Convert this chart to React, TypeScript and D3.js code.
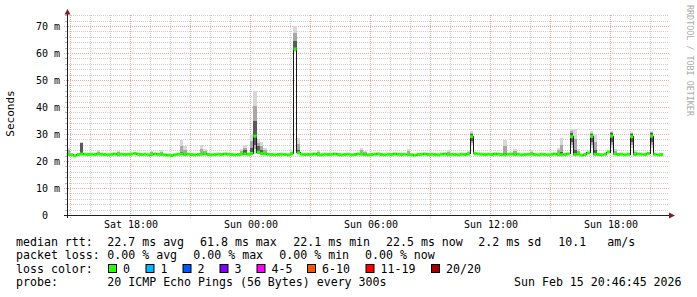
import React from 'react';
import * as d3 from 'd3';

// ---------- data ----------
const viewStart = new Date(2026, 1, 14, 14, 51);
const viewEnd = new Date(2026, 1, 15, 20, 51);
const dataStart = new Date(2026, 1, 14, 14, 50);
const stepMinutes = 10;

// median RTT (ms), one value every 10 minutes
const medianMs = [
  22.4, 22.3, 21.9, 22.4, 22.6, 22.5, 22.4, 22.5, 22.4, 22.6, 22.5, 22.4, 22.3, 22.5, 22.6, 22.4, 22.5, 22.4,
  22.5, 22.6, 22.8, 22.5, 22.4, 22.5, 22.3, 22.4, 22.6, 22.5, 22.4, 22.3, 22.2, 22.0, 22.3, 22.5, 22.6, 22.4,
  22.5, 22.4, 22.3, 22.4, 22.5, 22.6, 22.4, 22.3, 22.4, 22.5, 22.4, 22.6, 22.5, 22.4, 22.3, 22.4, 22.5, 22.6,
  22.5, 22.8, 29.2, 23.3, 22.7, 22.6, 22.5, 22.4, 22.3, 22.4, 22.5, 22.4, 22.3, 22.6, 61.5, 23.0, 22.5, 22.4,
  22.4, 22.5, 22.6, 22.4, 22.3, 22.5, 22.4, 22.5, 22.6, 22.4, 22.3, 22.4, 22.5, 22.3, 22.4, 22.6, 22.5, 22.4,
  22.3, 22.4, 22.5, 22.6, 22.4, 22.3, 22.5, 22.4, 22.6, 22.5, 22.4, 22.5, 22.4, 22.3, 22.2, 22.4, 22.5, 22.6,
  22.4, 22.5, 22.4, 22.3, 22.5, 22.6, 22.4, 22.5, 22.4, 22.3, 22.5, 22.4, 22.6, 29.0, 22.8, 22.6, 22.5, 22.4,
  22.5, 22.4, 22.6, 22.5, 22.4, 22.3, 22.5, 22.6, 22.4, 22.5, 22.3, 22.4, 22.5, 22.6, 22.4, 22.3, 22.5, 22.4,
  22.3, 22.5, 22.6, 22.4, 22.3, 22.4, 22.6, 29.0, 22.4, 22.5, 22.2, 22.4, 23.0, 29.1, 22.5, 22.4, 22.3, 22.5,
  23.3, 29.2, 22.6, 22.4, 22.5, 22.3, 22.5, 29.0, 22.4, 22.6, 22.5, 22.4, 22.8, 29.2, 22.5, 22.3, 22.4,
];

// smoke (ping spread) where it rises visibly above the median line
const smokeAt =       [0, 4, 9, 15, 25, 28, 34, 35, 40, 41, 52, 53, 55, 56, 57, 58, 59, 67, 68, 69, 75, 88, 89, 102, 114, 120, 121, 131, 134, 139, 147, 148, 151, 152, 153, 157, 158, 163, 164, 169, 170, 175];
const smokeMin =      [22.2, 22.4, 22.3, 22.3, 22.3, 22.3, 22.2, 22.2, 22.2, 22.2, 22.3, 22.3, 22.4, 22.6, 22.5, 22.4, 22.3, 22.3, 60.5, 22.5, 22.3, 22.3, 22.3, 22.3, 22.3, 22.3, 26.0, 22.3, 22.3, 22.3, 22.3, 22.3, 25.0, 22.4, 22.3, 25.0, 22.4, 25.0, 22.3, 25.0, 22.3, 25.0];
const smokeMax =      [25.0, 27.0, 24.2, 23.6, 23.8, 24.0, 27.8, 25.5, 26.0, 24.5, 24.5, 26.0, 30.0, 46.0, 28.0, 27.0, 25.0, 24.0, 70.0, 28.5, 24.0, 24.8, 23.8, 24.5, 24.0, 23.8, 31.0, 27.8, 24.5, 24.0, 25.0, 28.5, 32.0, 32.0, 24.5, 31.0, 30.0, 31.0, 24.5, 30.8, 24.0, 31.0];
const smokeCoreLow =  [22.3, 22.6, 22.4, 22.4, 22.4, 22.4, 22.4, 22.4, 22.4, 22.4, 22.4, 22.5, 22.8, 26.0, 23.0, 22.6, 22.5, 22.5, 61.2, 22.8, 22.4, 22.4, 22.4, 22.4, 22.4, 22.4, 27.5, 22.4, 22.4, 22.4, 22.4, 22.5, 27.0, 22.6, 22.4, 27.0, 22.6, 27.0, 22.4, 27.0, 22.4, 27.0];
const smokeCoreHigh = [23.0, 26.5, 22.8, 22.7, 22.7, 22.8, 23.2, 22.9, 23.0, 22.8, 23.0, 24.0, 25.0, 35.0, 25.5, 24.0, 23.0, 22.9, 64.5, 24.0, 22.8, 23.0, 22.8, 22.9, 22.8, 22.9, 30.0, 23.0, 22.9, 22.8, 23.0, 23.5, 30.5, 24.0, 23.0, 30.0, 24.0, 30.5, 23.0, 30.0, 22.8, 30.5];

const yTickValues = [0, 10, 20, 30, 40, 50, 60, 70];

const lossLabels = ['0', '1', '2', '3', '4-5', '6-10', '11-19', '20/20'];
const lossColors = ['#26ff00', '#00b8ff', '#0059ff', '#7e00ff', '#ff00ff', '#ff5500', '#ff0000', '#a00000'];
const lossBoxX = [108, 145.5, 182.5, 219.5, 256.5, 307, 365.5, 431];

const rttTexts = ['median rtt:', '22.7 ms avg', '61.8 ms max', '22.1 ms min', '22.5 ms now', '2.2 ms sd', '10.1', 'am/s'];
const rttX = [16, 107.3, 200, 293.3, 386, 478.3, 558.3, 607.3];
const lossTexts = ['packet loss:', '0.00 % avg', '0.00 % max', '0.00 % min', '0.00 % now'];
const lossX = [16, 107.3, 193.3, 279.3, 365];
const probeText = '20 ICMP Echo Pings (56 Bytes) every 300s';
const dateText = 'Sun Feb 15 20:46:45 2026';

// ---------- layout ----------
const W = 697;
const H = 297;
const L = 67;
const R = 667;
const T = 15;
const B = 215;
const GRID_R = 669;
const MONO = '"DejaVu Sans Mono", monospace';

export default function App() {
  const x = d3.scaleTime().domain([viewStart, viewEnd]).range([L, R]);
  const y = d3.scaleLinear().domain([0, 200 / 2.7]).range([B, T]);

  const tAt = (i: number) => new Date(dataStart.getTime() + i * stepMinutes * 60000);

  const hourTicks = x.ticks(d3.timeHour.every(1)!);
  const majorTicks = hourTicks.filter((d) => d.getHours() % 3 === 0);
  const minorTicks = hourTicks.filter((d) => d.getHours() % 3 !== 0);
  const labelTicks = hourTicks.filter((d) => d.getHours() % 6 === 0);
  const fmt = d3.timeFormat('%a %H:%M');

  const yMinor = d3.range(2, 75, 2).filter((v) => v % 10 !== 0 && y(v) >= T - 0.5);
  const yMajor = yTickValues;

  // median step line
  const stepPts: [number, number][] = medianMs.map((v, i) => [x(tAt(i)), y(v)]);
  stepPts.push([x(tAt(medianMs.length)), y(medianMs[medianMs.length - 1])]);
  const stepLine = d3.line().curve(d3.curveStepAfter)(stepPts) || '';

  const smoke = smokeAt.map((idx, k) => {
    const x0 = x(tAt(idx));
    const x1 = x(tAt(idx + 1));
    const lo = smokeMin[k];
    const hi = smokeMax[k];
    const cl = smokeCoreLow[k];
    const ch = smokeCoreHigh[k];
    const ml = (lo + cl) / 2;
    const mh = (hi + ch) / 2;
    return (
      <g key={'s' + k}>
        <rect x={x0} width={x1 - x0} y={y(hi)} height={y(lo) - y(hi)} fill="#d8d8d8" />
        <rect x={x0} width={x1 - x0} y={y(mh)} height={y(ml) - y(mh)} fill="#a8a8a8" />
        <rect x={x0} width={x1 - x0} y={y(ch)} height={y(cl) - y(ch)} fill="#5a5a5a" />
      </g>
    );
  });

  const legendY = [245.5, 259, 272.5, 286.3];

  return (
    <svg
      width={W}
      height={H}
      style={{ position: 'absolute', left: 0, top: 0, background: '#fff' }}
      fontFamily={MONO}
    >
      <rect x={0} y={0} width={W} height={H} fill="#ffffff" />

      {/* minor grid */}
      <g stroke="#cfcfcf" strokeWidth={1} strokeDasharray="1,1" shapeRendering="crispEdges">
        {yMinor.map((v) => (
          <line key={'ym' + v} x1={L} x2={GRID_R} y1={Math.round(y(v)) + 0.5} y2={Math.round(y(v)) + 0.5} />
        ))}
        {minorTicks.map((d) => (
          <line key={'xm' + d.getTime()} x1={Math.round(x(d)) + 0.5} x2={Math.round(x(d)) + 0.5} y1={T} y2={B + 2} />
        ))}
      </g>
      {/* major grid */}
      <g stroke="#efa8a8" strokeWidth={1} strokeDasharray="1,1" shapeRendering="crispEdges">
        {yMajor.filter((v) => v > 0).map((v) => (
          <line key={'yM' + v} x1={L - 3} x2={GRID_R} y1={Math.round(y(v)) + 0.5} y2={Math.round(y(v)) + 0.5} />
        ))}
        {majorTicks.map((d) => (
          <line key={'xM' + d.getTime()} x1={Math.round(x(d)) + 0.5} x2={Math.round(x(d)) + 0.5} y1={T} y2={B + 3} />
        ))}
      </g>
      {/* minor y ticks */}
      <g stroke="#b8b8b8" shapeRendering="crispEdges">
        {yMinor.map((v) => (
          <line key={'yt' + v} x1={L - 2} x2={L} y1={Math.round(y(v)) + 0.5} y2={Math.round(y(v)) + 0.5} />
        ))}
      </g>

      {/* smoke */}
      <g shapeRendering="crispEdges">{smoke}</g>

      {/* median line */}
      <path d={stepLine} fill="none" stroke="#1a1a1a" strokeWidth={1} shapeRendering="crispEdges" />
      <g stroke={lossColors[0]} strokeWidth={3}>
        {medianMs.map((v, i) => (
          <line key={'g' + i} x1={x(tAt(i))} x2={x(tAt(i + 1))} y1={y(v)} y2={y(v)} />
        ))}
      </g>

      {/* axes */}
      <g stroke="#1f1f1f" strokeWidth={1} shapeRendering="crispEdges">
        <line x1={L + 0.5} x2={L + 0.5} y1={B + 3} y2={12} />
        <line x1={L - 3} x2={GRID_R + 1} y1={B + 0.5} y2={B + 0.5} />
      </g>
      <path d={`M${L + 0.5},9 L${L + 3.5},14.5 L${L - 2.5},14.5 Z`} fill="#7f1f1f" />
      <path d={`M${GRID_R + 6},${B + 0.5} L${GRID_R},${B - 2.5} L${GRID_R},${B + 3.5} Z`} fill="#7f1f1f" />

      {/* y labels */}
      <g fontSize={10} fill="#000">
        {yTickValues.map((v) =>
          v === 0 ? (
            <text key={'yl' + v} x={48} y={y(v) + 3.7} textAnchor="end">0</text>
          ) : (
            <text key={'yl' + v} x={60} y={y(v) + 3.7} textAnchor="end">{`${v} m`}</text>
          )
        )}
      </g>
      {/* x labels */}
      <g fontSize={10} fill="#000">
        {labelTicks.map((d) => (
          <text key={'xl' + d.getTime()} x={x(d) + 1} y={227.5} textAnchor="middle">{fmt(d)}</text>
        ))}
      </g>

      {/* axis title */}
      <text transform="translate(14.3,113.5) rotate(-90)" fontSize={11} textAnchor="middle" fill="#000">Seconds</text>
      {/* watermark */}
      <text transform="translate(686.5,5) rotate(90)" fontSize={8.4} fill="#aaaaaa">RRDTOOL / TOBI OETIKER</text>

      {/* legend */}
      <g fontSize={11.6} fill="#000">
        {rttTexts.map((t, i) => (
          <text key={'r' + i} x={rttX[i]} y={legendY[0]}>{t}</text>
        ))}
        {lossTexts.map((t, i) => (
          <text key={'l' + i} x={lossX[i]} y={legendY[1]}>{t}</text>
        ))}
        <text x={16} y={legendY[2]}>loss color:</text>
        {lossLabels.map((t, i) => (
          <g key={'lc' + i}>
            <rect x={lossBoxX[i] + 0.5} y={264.5} width={8} height={8} fill={lossColors[i]} stroke="#000" strokeWidth={1} />
            <text x={lossBoxX[i] + 15} y={legendY[2]}>{t}</text>
          </g>
        ))}
        <text x={16} y={legendY[3]}>probe:</text>
        <text x={107.3} y={legendY[3]}>{probeText}</text>
        <text x={514} y={legendY[3]}>{dateText}</text>
      </g>
    </svg>
  );
}
